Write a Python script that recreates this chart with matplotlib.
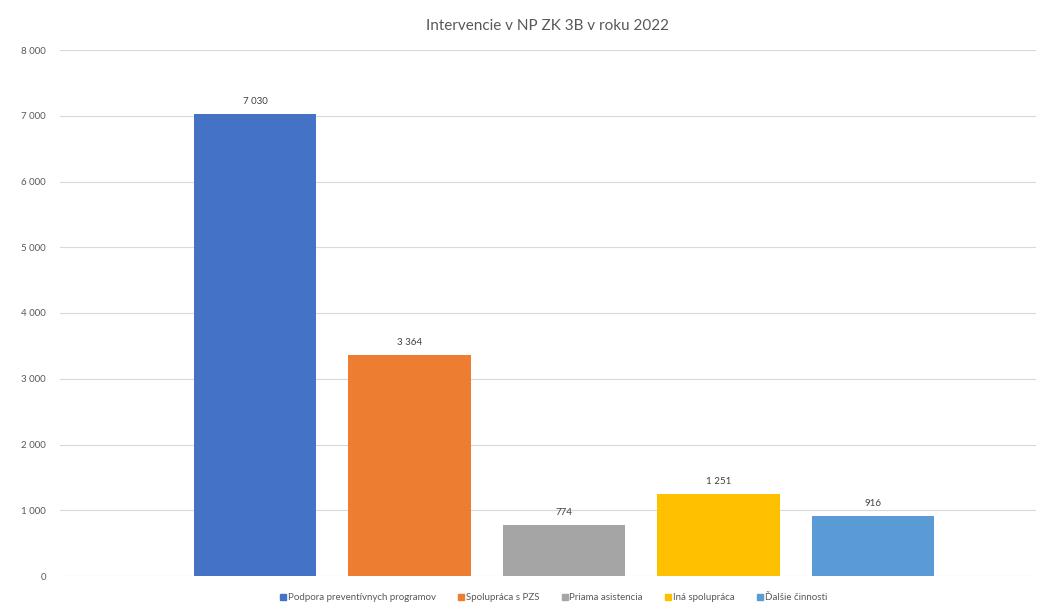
import matplotlib.pyplot as plt
from matplotlib.lines import Line2D

plt.rcParams['font.family'] = ['Lato', 'DejaVu Sans']

# data
categories = ['Podpora preventívnych programov', 'Spolupráca s PZS', 'Priama asistencia',
              'Iná spolupráca', 'Ďalšie činnosti']
values = [7030, 3364, 774, 1251, 916]
colors = ['#4472C4', '#ED7D31', '#A5A5A5', '#FFC000', '#5B9BD5']
yticks = [0, 1000, 2000, 3000, 4000, 5000, 6000, 7000, 8000]


def fmt(v):
    return f"{v:,}".replace(",", " ")


fig = plt.figure(figsize=(10.38, 6.06), dpi=100)
ax = fig.add_axes([60 / 1038, 30 / 606, 976 / 1038, 526 / 606])

x = list(range(len(values)))
bars = ax.bar(x, values, width=0.79, color=colors, zorder=3)
for xi, v in zip(x, values):
    ax.text(xi, v + 120, fmt(v), ha='center', va='bottom', fontsize=7, color='#404040')

ax.set_xlim(-1.262, 5.055)
ax.set_ylim(0, 8000)
ax.set_yticks(yticks)
ax.set_yticklabels([fmt(t) for t in yticks], fontsize=7, color='#595959')
ax.set_xticks([])
ax.tick_params(axis='y', length=0, pad=10)
ax.grid(axis='y', color='#d9d9d9', linewidth=0.8, zorder=0)
for s in ax.spines.values():
    s.set_visible(False)

fig.text(548 / 1038, 1 - 26 / 606, 'Intervencie v NP ZK 3B v roku 2022', ha='center', va='center',
         fontsize=11, color='#595959')

handles = [Line2D([], [], marker='s', linestyle='', markersize=5, color=c) for c in colors]
fig.legend(handles, categories, loc='center', bbox_to_anchor=(553 / 1038, 1 - 598 / 606), ncol=5,
           frameon=False, fontsize=7, labelcolor='#595959', handletextpad=0.1, columnspacing=2.2,
           handlelength=0.8)

fig.savefig('out.png', dpi=100)
